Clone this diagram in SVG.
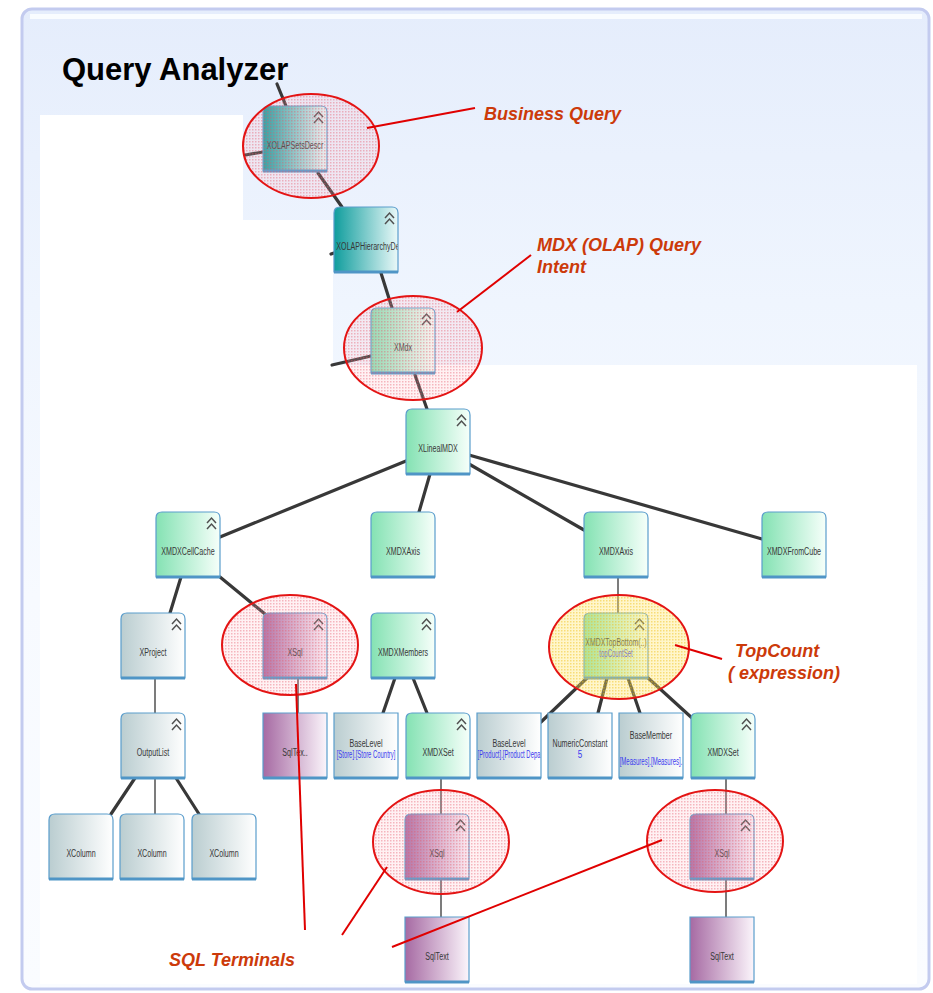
<svg xmlns="http://www.w3.org/2000/svg" xmlns:xlink="http://www.w3.org/1999/xlink" width="933" height="993" viewBox="0 0 933 993">
<defs>
<linearGradient id="panelG" x1="0" y1="0" x2="0" y2="1">
<stop offset="0" stop-color="#e5edfc"/><stop offset="0.3" stop-color="#eff5fe"/><stop offset="0.6" stop-color="#f7faff"/><stop offset="1" stop-color="#fafcff"/>
</linearGradient>
<linearGradient id="gTeal" x1="0" y1="0" x2="1" y2="0"><stop offset="0" stop-color="#0f9d9d"/><stop offset="1" stop-color="#eaf8f8"/></linearGradient>
<linearGradient id="gGreen" x1="0" y1="0" x2="1" y2="0"><stop offset="0" stop-color="#84e2b3"/><stop offset="1" stop-color="#f6fffa"/></linearGradient>
<linearGradient id="gGray" x1="0" y1="0" x2="1" y2="0"><stop offset="0" stop-color="#bacdd0"/><stop offset="1" stop-color="#ffffff"/></linearGradient>
<linearGradient id="gPurple" x1="0" y1="0" x2="1" y2="0"><stop offset="0" stop-color="#a66aa3"/><stop offset="1" stop-color="#fbf5fb"/></linearGradient>
<pattern id="pRed" width="3" height="3" patternUnits="userSpaceOnUse">
<rect width="3" height="3" fill="#ffb0bb" fill-opacity="0.18"/><rect width="1.5" height="1.5" fill="#e65567" fill-opacity="0.38"/>
</pattern>
<pattern id="pYel" width="3" height="3" patternUnits="userSpaceOnUse">
<rect width="3" height="3" fill="#ffe46a" fill-opacity="0.35"/><rect width="1.5" height="1.5" fill="#f0bc10" fill-opacity="0.45"/>
</pattern>
<clipPath id="nc"><rect x="0.5" y="0" width="63" height="65"/></clipPath>
<path id="rnd" d="M0,65 V6 Q0,0 6,0 H58 Q64,0 64,6 V65 Z"/>
<path id="sq" d="M0,65 V0 H64 V65 Z"/>
<symbol id="chev" overflow="visible"><path d="M51,11 L55.5,6 L60,11 M51,17 L55.5,12 L60,17" fill="none" stroke="#505050" stroke-width="1.5"/></symbol>
<style>
.nb{stroke:#4f95c6;stroke-width:3}
.ns{stroke:#5a9dcc;stroke-width:1.2}
.lbl{font-family:"Liberation Sans",Arial,sans-serif;font-size:11.5px;fill:#383838;text-anchor:middle}
.blu{font-family:"Liberation Sans",Arial,sans-serif;font-size:10px;fill:#3a3af0;text-anchor:middle}
.c{stroke:#383838;stroke-width:3.2;fill:none;stroke-linecap:round}
.v{stroke:#7c7c7c;stroke-width:2}
.ell{stroke:#e41414;stroke-width:2}
.ptr{stroke:#e00000;stroke-width:2;fill:none}
.ann{font-family:"Liberation Sans",Arial,sans-serif;font-size:18px;font-weight:bold;font-style:italic;fill:#cc3a0a}
</style>
</defs>
<rect x="22" y="9" width="907" height="980" rx="10" fill="url(#panelG)" stroke="#c3cbef" stroke-width="3"/>
<rect x="30" y="14" width="892" height="5" fill="#fbfdff" opacity="0.9"/>
<path d="M40,115 H243 V220 H333 V365 H917 V984 H40 Z" fill="#ffffff"/>
<text x="62" y="80" font-family="'Liberation Sans',Arial,sans-serif" font-size="31" font-weight="bold" fill="#000">Query Analyzer</text>

<g id="connectors">
<line class="c" x1="277" y1="84" x2="286" y2="106"/>
<line class="c" x1="245" y1="155" x2="263" y2="152"/>
<line class="c" x1="318" y1="173" x2="342" y2="207"/>
<line class="c" x1="331" y1="254" x2="334" y2="253"/>
<line class="c" x1="381" y1="273" x2="392" y2="308"/>
<line class="c" x1="332" y1="365" x2="371" y2="356"/>
<line class="c" x1="415" y1="375" x2="427" y2="409"/>
<line class="c" x1="406" y1="461" x2="220" y2="537"/>
<line class="c" x1="430" y1="474" x2="419" y2="512"/>
<line class="c" x1="469" y1="464" x2="584" y2="530"/>
<line class="c" x1="469" y1="455" x2="762" y2="539"/>
<line class="c" x1="181" y1="577" x2="170" y2="613"/>
<line class="c" x1="220" y1="577" x2="265" y2="614"/>
<line class="c" x1="395" y1="678" x2="383" y2="713"/>
<line class="c" x1="413" y1="678" x2="427" y2="713"/>
<line class="c" x1="135" y1="778" x2="111" y2="814"/>
<line class="c" x1="176" y1="778" x2="199" y2="814"/>
<line class="c" x1="587" y1="678" x2="541" y2="722"/>
<line class="c" x1="607" y1="678" x2="598" y2="713"/>
<line class="c" x1="628" y1="678" x2="640" y2="713"/>
<line class="c" x1="647" y1="677" x2="692" y2="718"/>
<line class="v" x1="618" y1="577" x2="618" y2="613"/>
<line class="v" x1="155" y1="678" x2="155" y2="713"/>
<line class="v" x1="155" y1="778" x2="155" y2="814"/>
<line class="v" x1="298" y1="678" x2="298" y2="713"/>
<line class="v" x1="441" y1="778" x2="441" y2="814"/>
<line class="v" x1="441" y1="879" x2="441" y2="917"/>
<line class="v" x1="726" y1="778" x2="726" y2="814"/>
<line class="v" x1="726" y1="879" x2="726" y2="917"/>
</g>

<g id="n-xolapsetsdescr" transform="translate(263,106)"><use href="#rnd" fill="url(#gTeal)" class="ns"/><line class="nb" x1="0" y1="65" x2="64" y2="65"/><use href="#chev"/><g clip-path="url(#nc)"><text class="lbl" transform="matrix(0.62 0 0 1 32 43)">XOLAPSetsDescr</text></g></g>
<g id="n-xolaphierarchy" transform="translate(334,207)"><use href="#rnd" fill="url(#gTeal)" class="ns"/><line class="nb" x1="0" y1="65" x2="64" y2="65"/><use href="#chev"/><g clip-path="url(#nc)"><text class="lbl" transform="matrix(0.62 0 0 1 34 43)">XOLAPHierarchyDe</text></g></g>
<g id="n-xmdx" transform="translate(371,308)"><use href="#rnd" fill="url(#gGreen)" class="ns"/><line class="nb" x1="0" y1="65" x2="64" y2="65"/><use href="#chev"/><text class="lbl" transform="matrix(0.62 0 0 1 32 43)">XMdx</text></g>
<g id="n-xlinealmdx" transform="translate(406,409)"><use href="#rnd" fill="url(#gGreen)" class="ns"/><line class="nb" x1="0" y1="65" x2="64" y2="65"/><use href="#chev"/><text class="lbl" transform="matrix(0.62 0 0 1 32 43)">XLinealMDX</text></g>
<g id="n-xmdxcellcache" transform="translate(156,512)"><use href="#rnd" fill="url(#gGreen)" class="ns"/><line class="nb" x1="0" y1="65" x2="64" y2="65"/><use href="#chev"/><text class="lbl" transform="matrix(0.62 0 0 1 32 43)">XMDXCellCache</text></g>
<g id="n-xmdxaxis1" transform="translate(371,512)"><use href="#rnd" fill="url(#gGreen)" class="ns"/><line class="nb" x1="0" y1="65" x2="64" y2="65"/><text class="lbl" transform="matrix(0.62 0 0 1 32 43)">XMDXAxis</text></g>
<g id="n-xmdxaxis2" transform="translate(584,512)"><use href="#rnd" fill="url(#gGreen)" class="ns"/><line class="nb" x1="0" y1="65" x2="64" y2="65"/><text class="lbl" transform="matrix(0.62 0 0 1 32 43)">XMDXAxis</text></g>
<g id="n-xmdxfromcube" transform="translate(762,512)"><use href="#rnd" fill="url(#gGreen)" class="ns"/><line class="nb" x1="0" y1="65" x2="64" y2="65"/><text class="lbl" transform="matrix(0.62 0 0 1 32 43)">XMDXFromCube</text></g>
<g id="n-xproject" transform="translate(121,613)"><use href="#rnd" fill="url(#gGray)" class="ns"/><line class="nb" x1="0" y1="65" x2="64" y2="65"/><use href="#chev"/><text class="lbl" transform="matrix(0.62 0 0 1 32 43)">XProject</text></g>
<g id="n-xsql1" transform="translate(263,613)"><use href="#rnd" fill="url(#gPurple)" class="ns"/><line class="nb" x1="0" y1="65" x2="64" y2="65"/><use href="#chev"/><text class="lbl" transform="matrix(0.62 0 0 1 32 43)">XSql</text></g>
<g id="n-xmdxmembers" transform="translate(371,613)"><use href="#rnd" fill="url(#gGreen)" class="ns"/><line class="nb" x1="0" y1="65" x2="64" y2="65"/><use href="#chev"/><text class="lbl" transform="matrix(0.62 0 0 1 32 43)">XMDXMembers</text></g>
<g id="n-xmdxtopbottom" transform="translate(584,613)"><use href="#rnd" fill="url(#gGreen)" class="ns"/><line class="nb" x1="0" y1="65" x2="64" y2="65"/><use href="#chev"/><g clip-path="url(#nc)"><text class="lbl" transform="matrix(0.6 0 0 1 32 33)">XMDXTopBottom(..)</text></g><text class="blu" transform="matrix(0.6 0 0 1 32 44)">topCountSet</text></g>
<g id="n-outputlist" transform="translate(121,713)"><use href="#rnd" fill="url(#gGray)" class="ns"/><line class="nb" x1="0" y1="65" x2="64" y2="65"/><use href="#chev"/><text class="lbl" transform="matrix(0.62 0 0 1 32 43)">OutputList</text></g>
<g id="n-sqltext1" transform="translate(263,713)"><use href="#sq" fill="url(#gPurple)" class="ns"/><line class="nb" x1="0" y1="65" x2="64" y2="65"/><text class="lbl" transform="matrix(0.62 0 0 1 32 43)">SqlTex..</text></g>
<g id="n-baselevel1" transform="translate(334,713)"><use href="#sq" fill="url(#gGray)" class="ns"/><line class="nb" x1="0" y1="65" x2="64" y2="65"/><text class="lbl" transform="matrix(0.62 0 0 1 32 34)">BaseLevel</text><text class="blu" transform="matrix(0.59 0 0 1 32 45)">[Store].[Store Country]</text></g>
<g id="n-xmdxset1" transform="translate(406,713)"><use href="#rnd" fill="url(#gGreen)" class="ns"/><line class="nb" x1="0" y1="65" x2="64" y2="65"/><use href="#chev"/><text class="lbl" transform="matrix(0.62 0 0 1 32 43)">XMDXSet</text></g>
<g id="n-baselevel2" transform="translate(477,713)"><use href="#sq" fill="url(#gGray)" class="ns"/><line class="nb" x1="0" y1="65" x2="64" y2="65"/><text class="lbl" transform="matrix(0.62 0 0 1 32 34)">BaseLevel</text><g clip-path="url(#nc)"><text class="blu" transform="matrix(0.59 0 0 1 32 45)">[Product].[Product Depa</text></g></g>
<g id="n-numericconstant" transform="translate(548,713)"><use href="#sq" fill="url(#gGray)" class="ns"/><line class="nb" x1="0" y1="65" x2="64" y2="65"/><text class="lbl" transform="matrix(0.62 0 0 1 32 34)">NumericConstant</text><text class="blu" transform="matrix(0.8 0 0 1 32 45)">5</text></g>
<g id="n-basemember" transform="translate(619,713)"><use href="#sq" fill="url(#gGray)" class="ns"/><line class="nb" x1="0" y1="65" x2="64" y2="65"/><text class="lbl" transform="matrix(0.62 0 0 1 32 26)">BaseMember</text><g clip-path="url(#nc)"><text class="blu" transform="matrix(0.6 0 0 1 32 52)">[Measures].[Measures].</text></g></g>
<g id="n-xmdxset2" transform="translate(691,713)"><use href="#rnd" fill="url(#gGreen)" class="ns"/><line class="nb" x1="0" y1="65" x2="64" y2="65"/><use href="#chev"/><text class="lbl" transform="matrix(0.62 0 0 1 32 43)">XMDXSet</text></g>
<g id="n-xcolumn1" transform="translate(49,814)"><use href="#rnd" fill="url(#gGray)" class="ns"/><line class="nb" x1="0" y1="65" x2="64" y2="65"/><text class="lbl" transform="matrix(0.62 0 0 1 32 43)">XColumn</text></g>
<g id="n-xcolumn2" transform="translate(120,814)"><use href="#rnd" fill="url(#gGray)" class="ns"/><line class="nb" x1="0" y1="65" x2="64" y2="65"/><text class="lbl" transform="matrix(0.62 0 0 1 32 43)">XColumn</text></g>
<g id="n-xcolumn3" transform="translate(192,814)"><use href="#rnd" fill="url(#gGray)" class="ns"/><line class="nb" x1="0" y1="65" x2="64" y2="65"/><text class="lbl" transform="matrix(0.62 0 0 1 32 43)">XColumn</text></g>
<g id="n-xsql2" transform="translate(405,814)"><use href="#rnd" fill="url(#gPurple)" class="ns"/><line class="nb" x1="0" y1="65" x2="64" y2="65"/><use href="#chev"/><text class="lbl" transform="matrix(0.62 0 0 1 32 43)">XSql</text></g>
<g id="n-xsql3" transform="translate(690,814)"><use href="#rnd" fill="url(#gPurple)" class="ns"/><line class="nb" x1="0" y1="65" x2="64" y2="65"/><use href="#chev"/><text class="lbl" transform="matrix(0.62 0 0 1 32 43)">XSql</text></g>
<g id="n-sqltext2" transform="translate(405,917)"><use href="#sq" fill="url(#gPurple)" class="ns"/><line class="nb" x1="0" y1="65" x2="64" y2="65"/><text class="lbl" transform="matrix(0.62 0 0 1 32 43)">SqlText</text></g>
<g id="n-sqltext3" transform="translate(690,917)"><use href="#sq" fill="url(#gPurple)" class="ns"/><line class="nb" x1="0" y1="65" x2="64" y2="65"/><text class="lbl" transform="matrix(0.62 0 0 1 32 43)">SqlText</text></g>

<g id="highlights">
<ellipse class="ell" cx="311" cy="146" rx="68" ry="52" fill="url(#pRed)"/>
<ellipse class="ell" cx="413" cy="348" rx="69" ry="52" fill="url(#pRed)"/>
<ellipse class="ell" cx="290" cy="645" rx="68" ry="50" fill="url(#pRed)"/>
<ellipse class="ell" cx="619" cy="647" rx="70" ry="52" fill="url(#pYel)"/>
<ellipse class="ell" cx="441" cy="842" rx="68" ry="52" fill="url(#pRed)"/>
<ellipse class="ell" cx="715" cy="841" rx="68" ry="51" fill="url(#pRed)"/>
</g>

<g id="annotations">
<line class="ptr" x1="367" y1="128" x2="475" y2="108"/>
<line class="ptr" x1="531" y1="255" x2="457" y2="312"/>
<line class="ptr" x1="675" y1="645" x2="722" y2="659"/>
<line class="ptr" x1="296" y1="684" x2="305" y2="930"/>
<line class="ptr" x1="342" y1="935" x2="387" y2="867"/>
<line class="ptr" x1="392" y1="947" x2="662" y2="840"/>
<text class="ann" x="484" y="120">Business Query</text>
<text class="ann" x="537" y="251">MDX (OLAP) Query</text>
<text class="ann" x="537" y="273">Intent</text>
<text class="ann" x="735" y="657">TopCount</text>
<text class="ann" x="728" y="679">( expression)</text>
<text class="ann" x="169" y="966">SQL Terminals</text>
</g>
</svg>
